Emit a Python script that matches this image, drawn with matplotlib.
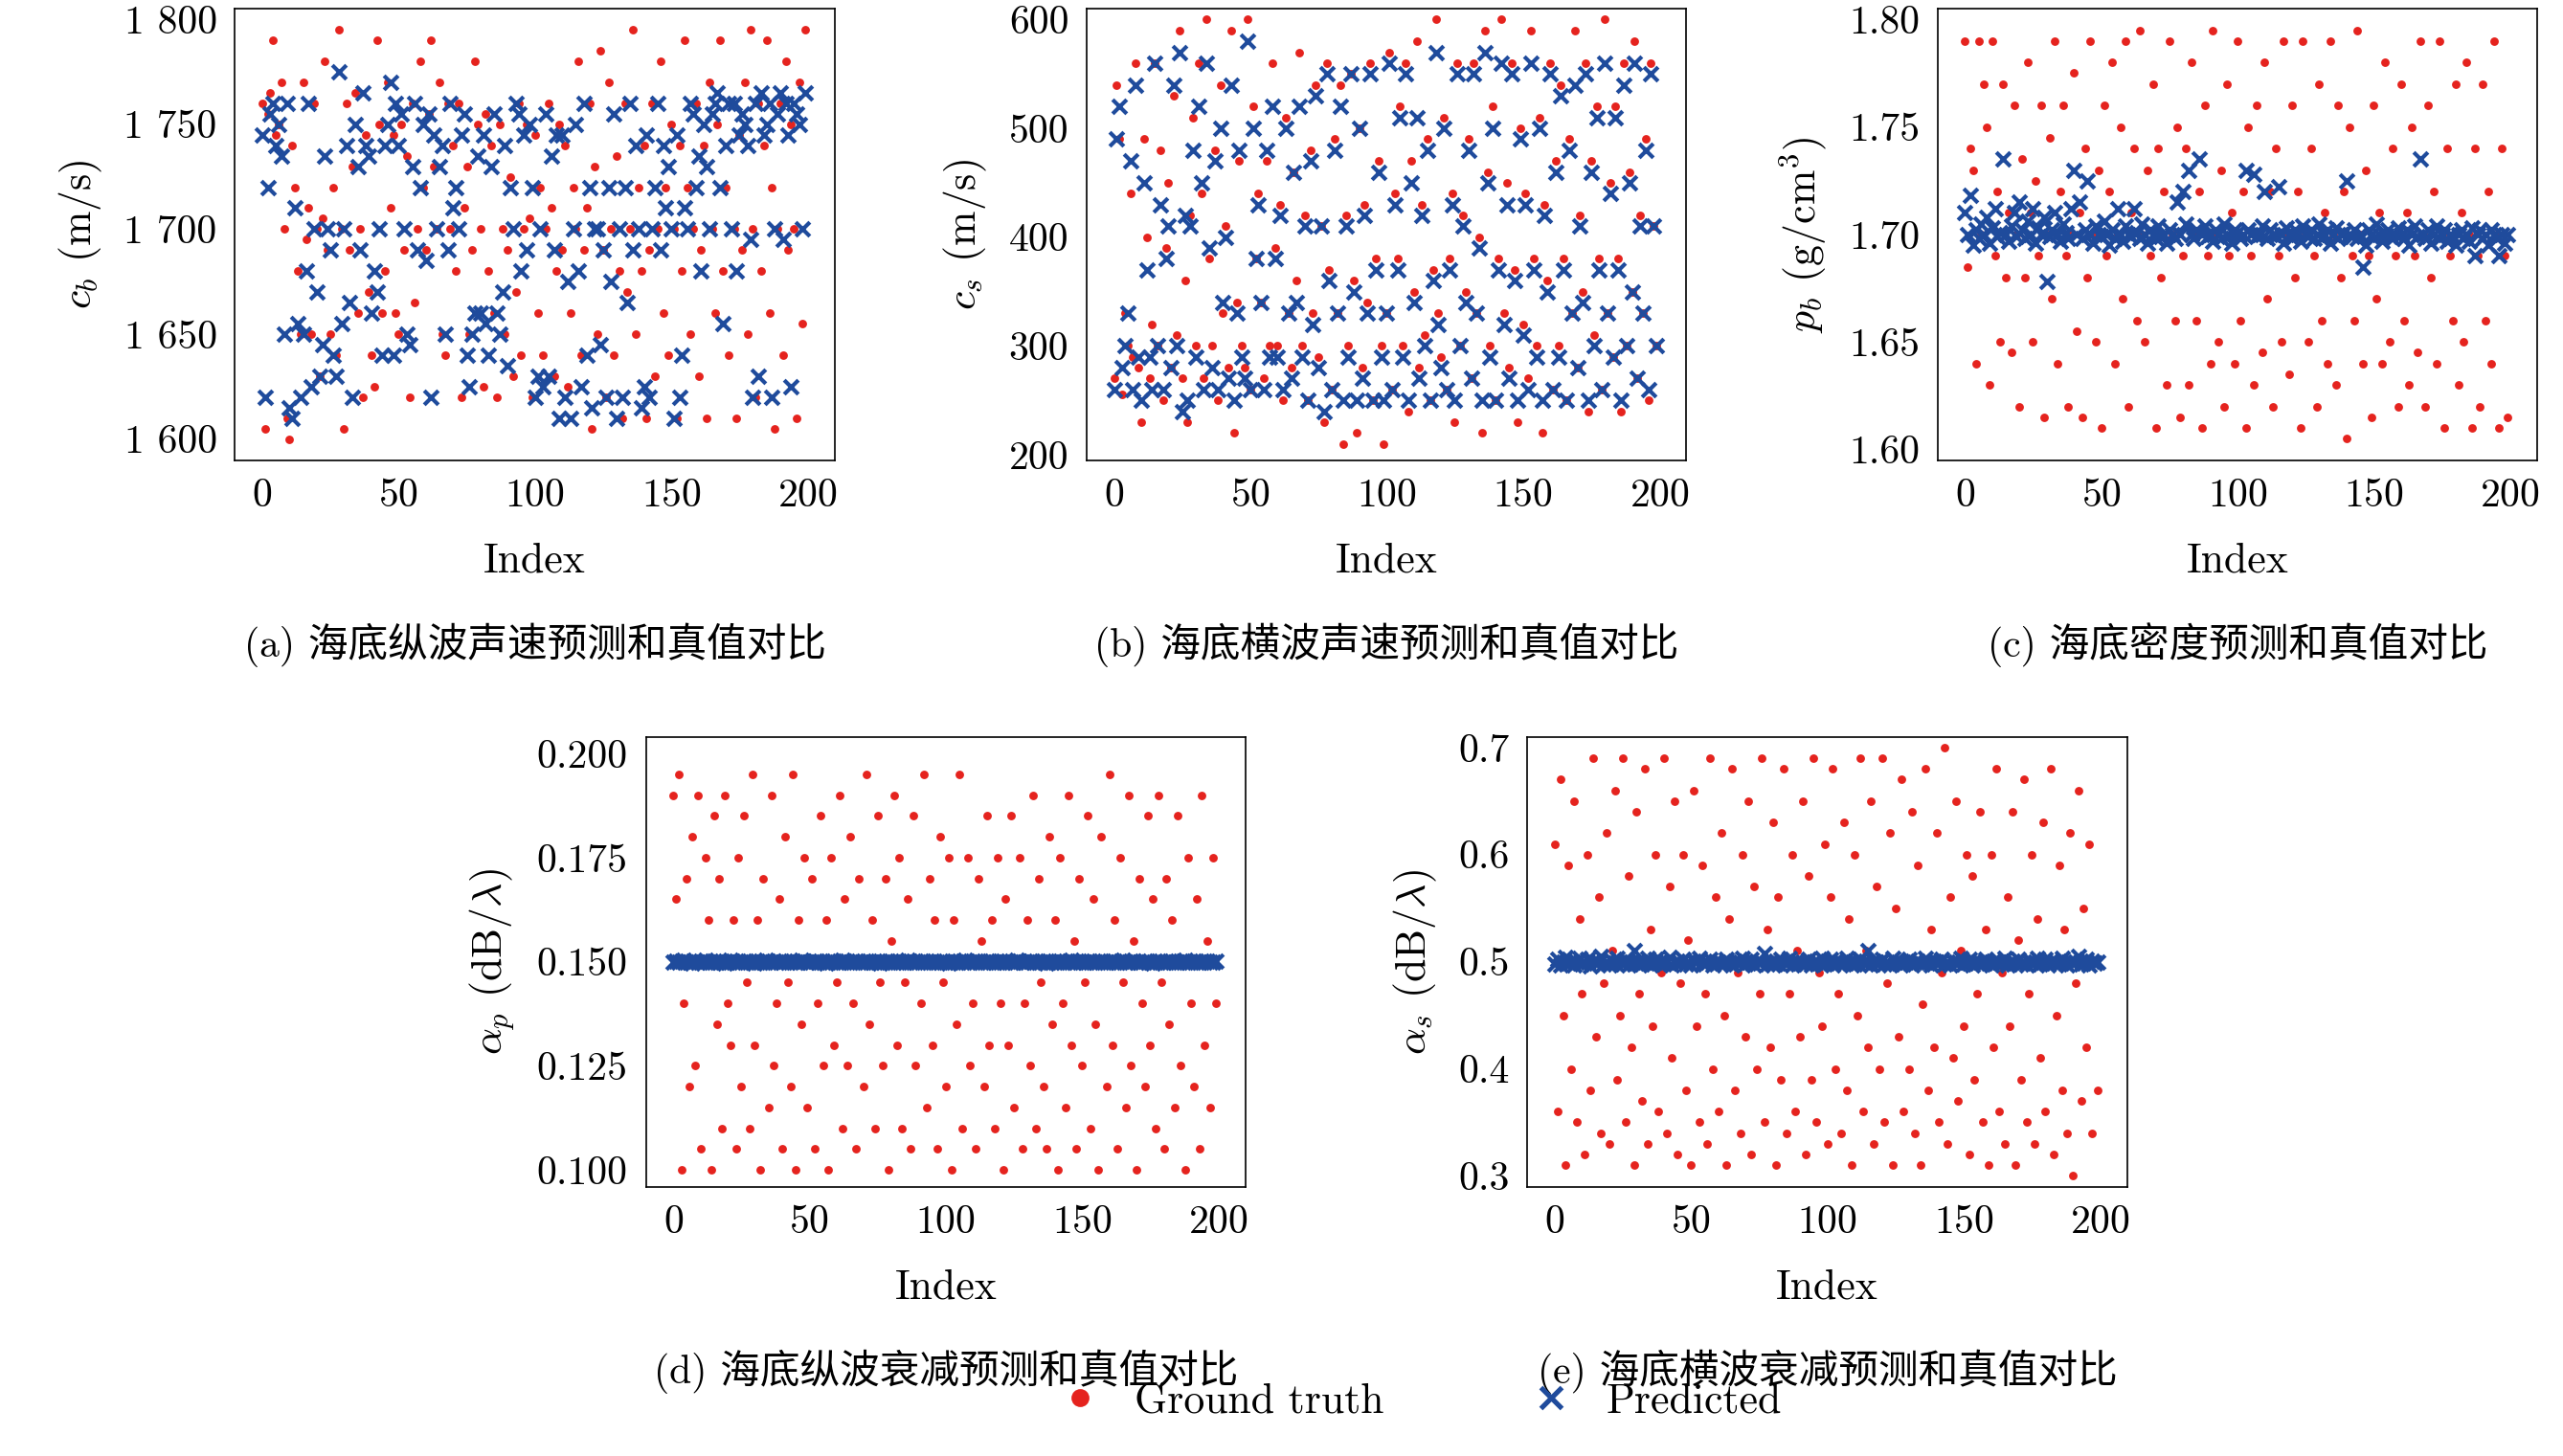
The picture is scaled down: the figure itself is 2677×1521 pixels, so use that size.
import numpy as np
import matplotlib
matplotlib.use("Agg")
import matplotlib.pyplot as plt
from matplotlib.ticker import FuncFormatter, MultipleLocator
from matplotlib.lines import Line2D

plt.rcParams['font.family'] = ['cmr10', 'Noto Sans CJK SC']
plt.rcParams['mathtext.fontset'] = 'cm'
plt.rcParams['axes.formatter.use_mathtext'] = True
plt.rcParams['axes.unicode_minus'] = False

index = np.arange(200)

cb_true = [
1760,1605,1755,1765,1790,1745,1750,1770,1700,1610,1600,1740,1720,1680,1650,1770,1695,1710,1650,1760,
1700,1630,1705,1780,1690,1650,1720,1640,1795,1700,1605,1760,1690,1730,1765,1660,1700,1620,1745,1670,
1640,1625,1790,1750,1660,1680,1770,1710,1745,1660,1650,1750,1690,1735,1620,1760,1665,1700,1780,1720,
1690,1755,1790,1730,1700,1770,1650,1640,1760,1700,1740,1680,1760,1620,1710,1730,1650,1690,1780,1750,
1700,1625,1755,1680,1740,1660,1620,1750,1700,1650,1690,1725,1630,1670,1760,1640,1700,1750,1705,1620,
1745,1660,1720,1640,1700,1760,1710,1630,1680,1750,1690,1740,1625,1660,1720,1700,1780,1640,1690,1710,
1760,1605,1730,1650,1785,1690,1620,1770,1700,1640,1735,1680,1610,1760,1670,1700,1795,1650,1720,1680,
1740,1610,1690,1760,1630,1700,1780,1660,1720,1640,1750,1700,1610,1740,1680,1790,1720,1650,1700,1760,
1630,1690,1740,1610,1770,1700,1660,1750,1790,1680,1720,1640,1760,1700,1610,1745,1690,1770,1650,1795,
1700,1620,1760,1680,1740,1790,1660,1720,1605,1700,1760,1640,1780,1690,1750,1700,1610,1770,1655,1795]
cb_pred = [
1745,1620,1720,1755,1760,1740,1750,1735,1650,1760,1615,1610,1710,1655,1620,1650,1680,1760,1625,1700,
1670,1630,1645,1735,1700,1690,1640,1630,1775,1655,1700,1740,1665,1620,1750,1730,1690,1765,1740,1735,
1660,1680,1670,1700,1640,1740,1750,1770,1640,1760,1740,1755,1700,1650,1645,1730,1760,1690,1720,1750,
1685,1755,1620,1745,1700,1730,1740,1650,1690,1760,1710,1720,1700,1745,1755,1640,1625,1650,1660,1735,
1660,1745,1655,1640,1730,1755,1660,1650,1670,1740,1635,1720,1700,1760,1755,1680,1745,1690,1750,1720,
1620,1630,1700,1625,1755,1630,1735,1690,1745,1610,1745,1620,1675,1610,1700,1750,1680,1625,1760,1640,
1720,1615,1700,1700,1645,1690,1620,1720,1675,1755,1610,1700,1620,1720,1665,1760,1690,1740,1700,1615,
1625,1745,1620,1700,1720,1760,1690,1740,1710,1730,1700,1610,1745,1620,1640,1710,1700,1760,1755,1720,
1735,1680,1750,1730,1700,1755,1760,1765,1720,1655,1740,1760,1700,1760,1680,1745,1755,1750,1740,1695,
1620,1760,1630,1765,1745,1750,1760,1620,1700,1755,1765,1695,1760,1745,1625,1760,1755,1750,1700,1765]

cs_true = [
270,540,490,255,330,300,440,290,560,280,230,490,400,270,320,560,300,480,250,390,
450,280,530,310,590,270,360,230,420,510,300,560,440,270,600,380,300,480,250,540,
330,410,280,590,220,340,470,300,280,600,260,520,380,440,340,270,470,300,560,390,
300,430,250,510,330,280,460,360,570,300,420,250,480,330,540,290,410,230,560,370,
260,490,330,540,210,420,300,550,360,220,500,280,430,340,560,250,380,470,300,210,
330,570,260,440,380,520,300,560,240,470,350,580,280,430,310,490,250,370,600,330,
290,510,260,380,440,230,560,300,420,350,490,270,560,330,400,220,590,460,300,520,
250,380,600,330,450,280,560,370,230,500,320,440,270,590,380,300,510,220,430,360,
560,260,470,300,540,380,250,490,330,590,280,420,350,560,240,470,310,520,380,260,
600,330,450,290,520,380,240,560,300,460,350,580,270,420,330,490,250,560,410,300]
cs_pred = [
260,490,520,280,300,330,470,260,540,290,250,450,370,290,260,560,300,430,260,380,
410,280,540,300,570,240,420,250,410,480,290,520,450,260,560,390,280,470,260,500,
340,400,270,540,250,330,480,290,270,580,260,500,380,430,340,260,480,290,520,380,
290,420,260,500,330,270,460,340,520,290,410,250,470,320,530,280,410,240,550,360,
260,480,330,520,250,410,290,550,350,250,500,270,420,330,550,250,370,460,290,250,
330,560,260,430,370,510,290,550,250,450,340,510,270,420,300,480,250,360,570,320,
280,500,260,370,430,250,550,300,410,340,480,270,550,330,390,250,570,450,290,500,
250,370,560,320,430,270,550,360,250,490,310,430,260,560,370,290,500,250,420,350,
550,260,460,290,530,370,250,480,330,540,280,410,340,550,250,460,300,510,370,260,
560,330,440,290,510,370,250,540,300,450,350,560,270,410,330,480,260,550,410,300]

rho_true = [
1790,1685,1740,1730,1640,1790,1700,1770,1750,1630,1790,1690,1720,1650,1770,1680,1710,1645,1760,1700,
1620,1735,1680,1780,1710,1650,1725,1690,1760,1615,1700,1745,1670,1790,1640,1720,1760,1690,1620,1700,
1775,1655,1710,1615,1740,1680,1790,1700,1650,1730,1610,1760,1690,1720,1780,1640,1700,1750,1670,1790,
1620,1710,1740,1660,1795,1700,1650,1730,1690,1770,1610,1740,1680,1720,1630,1790,1700,1660,1750,1615,
1690,1740,1630,1780,1700,1660,1720,1610,1760,1690,1640,1795,1700,1650,1730,1620,1770,1690,1710,1640,
1790,1660,1720,1610,1750,1690,1630,1760,1700,1645,1780,1670,1720,1620,1740,1690,1650,1790,1700,1635,
1760,1680,1720,1610,1790,1700,1650,1740,1690,1620,1770,1660,1710,1640,1790,1700,1630,1760,1680,1720,
1605,1750,1690,1660,1795,1700,1640,1730,1690,1615,1760,1670,1710,1640,1780,1700,1650,1740,1690,1620,
1770,1660,1710,1630,1750,1690,1645,1790,1700,1620,1760,1680,1720,1640,1790,1700,1610,1740,1690,1660,
1770,1630,1710,1650,1780,1700,1610,1740,1690,1620,1770,1660,1720,1640,1790,1700,1610,1740,1690,1615]
rho_pred = [
1710,1700,1718,1695,1702,1698,1705,1700,1708,1696,1703,1712,1699,1701,1735,1700,1697,1704,1710,1699,
1715,1702,1698,1706,1700,1712,1696,1703,1700,1708,1678,1699,1702,1710,1700,1697,1705,1701,1698,1712,
1730,1700,1715,1698,1702,1725,1700,1696,1704,1700,1699,1706,1700,1695,1702,1698,1712,1700,1697,1704,
1700,1699,1712,1701,1698,1705,1700,1696,1702,1700,1698,1704,1699,1700,1696,1702,1700,1698,1715,1700,
1720,1705,1730,1700,1698,1702,1735,1700,1704,1699,1700,1697,1702,1700,1698,1705,1700,1699,1696,1702,
1701,1698,1700,1730,1702,1700,1728,1699,1700,1704,1720,1698,1702,1700,1699,1722,1700,1696,1703,1700,
1698,1702,1700,1697,1704,1700,1699,1702,1698,1700,1705,1698,1700,1702,1696,1700,1703,1698,1700,1701,
1725,1700,1699,1702,1698,1700,1685,1695,1702,1700,1698,1705,1700,1697,1700,1702,1699,1698,1700,1703,
1700,1698,1702,1695,1700,1704,1699,1735,1700,1698,1702,1696,1700,1704,1698,1700,1702,1697,1700,1699,
1695,1700,1702,1698,1700,1697,1703,1690,1700,1702,1698,1700,1695,1702,1700,1698,1690,1700,1696,1700]

ap_true = [
190,165,195,100,140,170,120,180,125,190,105,150,175,160,100,185,135,170,110,190,
140,130,160,105,175,120,185,145,110,195,130,160,100,170,150,115,190,125,140,165,
105,180,145,120,195,100,160,135,175,115,150,170,105,140,185,125,160,100,175,130,
145,190,110,165,125,180,140,105,170,150,120,195,135,160,110,185,145,125,170,100,
155,190,130,175,110,145,165,105,185,125,150,140,195,115,170,130,160,105,180,145,
120,175,100,160,135,195,110,150,175,125,140,105,170,155,120,185,130,160,110,175,
140,100,165,130,185,115,150,175,105,140,160,125,190,110,170,145,120,105,180,135,
160,100,175,140,115,190,130,155,105,170,125,145,185,110,165,135,100,180,150,120,
195,130,160,105,175,145,115,190,125,155,100,170,140,120,185,130,165,110,190,145,
105,170,135,160,115,185,125,150,100,175,140,120,165,105,190,130,155,115,175,140]
ap_pred = [
1500,1502,1498,1501,1503,1499,1500,1497,1502,1500,1501,1499,1503,1500,1498,1502,1500,1499,1501,1497,
1500,1503,1499,1501,1498,1500,1502,1499,1501,1500,1497,1502,1500,1499,1503,1500,1498,1501,1500,1502,
1499,1501,1500,1498,1502,1500,1499,1503,1501,1500,1498,1500,1502,1499,1501,1500,1497,1501,1500,1502,
1499,1500,1503,1498,1501,1500,1499,1502,1500,1498,1501,1500,1502,1499,1500,1501,1497,1500,1502,1499,
1501,1500,1498,1502,1500,1499,1503,1500,1501,1498,1500,1502,1499,1501,1500,1498,1502,1500,1499,1501,
1500,1497,1502,1500,1499,1501,1500,1503,1498,1500,1501,1499,1502,1500,1498,1501,1500,1502,1499,1500,
1501,1498,1500,1502,1499,1500,1503,1501,1499,1500,1498,1502,1500,1501,1499,1500,1502,1497,1501,1500,
1499,1502,1500,1498,1501,1500,1503,1499,1500,1502,1498,1500,1501,1499,1502,1500,1498,1501,1500,1499,
1502,1500,1501,1498,1500,1503,1499,1500,1502,1501,1498,1500,1499,1502,1500,1501,1497,1500,1502,1499,
1500,1501,1498,1502,1500,1499,1501,1500,1503,1498,1500,1502,1499,1500,1501,1498,1502,1500,1499,1501]

as_true = [
610,360,670,450,310,590,400,650,350,540,470,320,600,380,690,430,560,340,480,620,
330,510,660,390,450,690,350,580,420,310,640,470,370,680,330,530,440,600,360,490,
690,340,570,410,650,320,480,600,380,520,310,660,440,350,590,470,330,690,400,560,
360,620,450,310,540,680,380,490,340,600,430,650,320,570,400,470,690,350,530,420,
630,310,560,390,680,340,470,600,360,510,430,650,320,580,390,690,350,490,440,610,
330,560,680,400,470,340,630,380,540,310,600,450,690,360,510,420,650,330,570,400,
690,350,480,620,310,550,430,670,360,500,400,640,340,590,310,460,680,380,530,420,
620,350,490,700,330,560,410,650,370,510,440,600,320,580,390,470,640,350,530,310,
600,420,680,360,490,330,560,440,640,310,520,390,670,350,470,600,330,540,410,630,
360,500,680,320,450,590,380,530,340,620,300,480,660,370,550,420,610,340,500,380]
as_pred = [
498,502,497,500,504,499,501,497,500,503,498,500,502,496,501,499,500,505,498,500,
497,501,499,503,500,498,502,497,500,510,499,501,498,500,503,497,500,502,499,501,
498,500,504,497,500,501,499,502,498,500,497,501,500,503,499,498,500,502,497,501,
500,499,498,502,500,497,501,500,499,503,498,500,502,497,501,499,500,508,498,500,
497,501,499,502,500,498,503,497,500,501,499,500,498,502,497,500,501,499,503,498,
500,502,497,501,499,500,498,503,500,497,501,499,502,500,498,510,497,501,500,499,
502,498,500,497,503,500,499,501,498,500,502,497,500,501,499,498,503,500,497,501,
500,499,502,498,500,497,501,500,499,503,498,500,502,497,501,499,500,498,502,500,
497,501,499,500,498,503,497,500,501,499,502,498,500,497,501,500,499,503,498,500,
502,497,501,499,500,498,503,500,497,501,499,500,505,498,500,502,497,501,499,500]

panels = [
    ('a', np.array(cb_true), np.array(cb_pred), r'$c_b$ (m/s)', (1590, 1805), 50, 'space',
     '(a) 海底纵波声速预测和真值对比'),
    ('b', np.array(cs_true), np.array(cs_pred), r'$c_s$ (m/s)', (195, 610), 100, '%d',
     '(b) 海底横波声速预测和真值对比'),
    ('c', np.array(rho_true) / 1000, np.array(rho_pred) / 1000, r'$p_b$ (g/cm$^3$)', (1.595, 1.805), 0.05, '%.2f',
     '(c) 海底密度预测和真值对比'),
    ('d', np.array(ap_true) / 1000, np.array(ap_pred) / 10000, r'$\alpha_p$ (dB/$\lambda$)', (0.096, 0.204), 0.025, '%.3f',
     '(d) 海底纵波衰减预测和真值对比'),
    ('e', np.array(as_true) / 1000, np.array(as_pred) / 1000, r'$\alpha_s$ (dB/$\lambda$)', (0.29, 0.71), 0.1, '%.1f',
     '(e) 海底横波衰减预测和真值对比'),
]

positions = {
    'a': [0.0917, 0.684, 0.234, 0.310],
    'b': [0.424, 0.684, 0.234, 0.310],
    'c': [0.756, 0.684, 0.234, 0.310],
    'd': [0.252, 0.185, 0.234, 0.309],
    'e': [0.596, 0.185, 0.234, 0.309],
}

red = '#e5231e'
blue = '#1f4b9c'

fig = plt.figure(figsize=(2677 / 150, 1521 / 150), dpi=150)

for key, yt, yp, ylab, ylim, step, fmt, cap in panels:
    ax = fig.add_axes(positions[key])
    ax.scatter(index, yt, s=18, color=red, zorder=2, linewidths=0)
    ax.scatter(index, yp, s=50, marker='x', color=blue, linewidths=2, zorder=3)
    ax.set_xlim(-10, 210)
    ax.set_ylim(*ylim)
    ax.xaxis.set_major_locator(MultipleLocator(50))
    ax.yaxis.set_major_locator(MultipleLocator(step))
    if fmt == 'space':
        ax.yaxis.set_major_formatter(FuncFormatter(lambda v, p: f'{int(v) // 1000} {int(v) % 1000:03d}'))
    else:
        ax.yaxis.set_major_formatter(FuncFormatter(lambda v, p, f=fmt: f % v))
    ax.tick_params(direction='in', length=0, labelsize=20, pad=9)
    ax.set_xlabel('Index', fontsize=21, labelpad=14)
    ax.set_ylabel(ylab, fontsize=21, labelpad=10)
    ax.text(0.5, -0.41, cap, transform=ax.transAxes, ha='center', va='center', fontsize=20,
            family=['cmr10', 'Noto Sans CJK SC'])

handles = [
    Line2D([], [], marker='o', color=red, linestyle='none', markersize=8, label='Ground truth'),
    Line2D([], [], marker='x', color=blue, linestyle='none', markersize=11, markeredgewidth=2.5, label='Predicted'),
]
fig.legend(handles=handles, loc='lower center', bbox_to_anchor=(0.55, -0.002), ncol=2, frameon=False,
           fontsize=21, columnspacing=3, handletextpad=0.3)

fig.savefig('out.png', dpi=150)
